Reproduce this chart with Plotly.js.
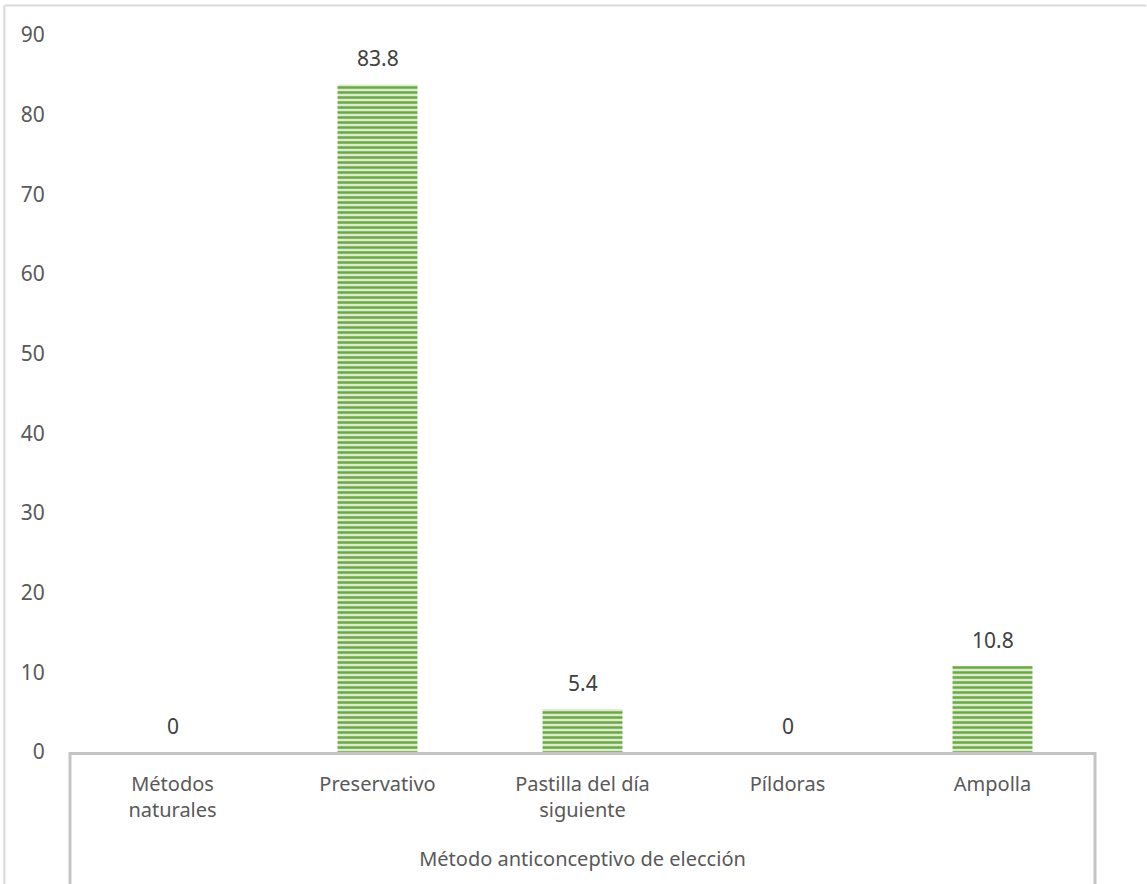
<!DOCTYPE html>
<html>
<head>
<meta charset="utf-8">
<script src="https://cdn.plot.ly/plotly-3.0.1.min.js"></script>
<style>
html,body{margin:0;padding:0;background:#fff;}
#chart{width:1147px;height:884px;}
</style>
</head>
<body>
<div id="chart"></div>
<script>
const categories = ["Métodos<br>naturales", "Preservativo", "Pastilla del día<br>siguiente", "Píldoras", "Ampolla"];
const values = [0, 83.8, 5.4, 0, 10.8];
const valueLabels = ["0", "83.8", "5.4", "0", "10.8"];
const xTitle = "Método anticonceptivo de elección";
const yTicks = [0, 10, 20, 30, 40, 50, 60, 70, 80, 90];

const FONT = "Noto Sans, Open Sans, sans-serif";
const GREY = "#595959";
const LINE = "#c4c4c4";
const FS_NUM = 21;
const FS_TXT = 20;

const trace = {
  type: "bar",
  x: categories,
  y: values,
  width: 0.39,
  marker: {
    color: "#d5e8c9",
    line: {width: 0},
    pattern: {shape: "-", fgcolor: "#6aaa3f", bgcolor: "#dcebd2", size: 5, solidity: 0.5, fillmode: "replace"}
  },
  hoverinfo: "x+y"
};

const labelAnnotations = categories.map((c, i) => ({
  x: c, y: values[i], xref: "x", yref: "y",
  text: valueLabels[i], showarrow: false,
  yanchor: "bottom", yshift: 10,
  font: {family: FONT, size: FS_NUM, color: "#404040"}
}));

const layout = {
  width: 1147, height: 884,
  margin: {l: 70, r: 52, t: 35, b: 132},
  paper_bgcolor: "#fff", plot_bgcolor: "#fff",
  showlegend: false,
  font: {family: FONT, color: GREY, size: FS_TXT},
  xaxis: {
    type: "category",
    showline: true, linecolor: LINE, linewidth: 3,
    ticks: "outside", ticklen: 12, tickcolor: "rgba(0,0,0,0)",
    tickfont: {family: FONT, size: FS_TXT, color: GREY},
    showgrid: false, zeroline: false,
    title: {text: xTitle, font: {family: FONT, size: FS_TXT, color: GREY}, standoff: 30}
  },
  yaxis: {
    range: [0, 90],
    tickvals: yTicks,
    showline: false, showgrid: false, zeroline: false,
    ticks: "outside", ticklen: 20, tickcolor: "rgba(0,0,0,0)",
    tickfont: {family: FONT, size: FS_NUM, color: GREY}
  },
  annotations: labelAnnotations,
  shapes: [
    {type: "line", xref: "paper", yref: "paper", x0: 0, x1: 0, y0: 0, y1: -0.2, line: {color: LINE, width: 3}},
    {type: "line", xref: "paper", yref: "paper", x0: 1, x1: 1, y0: 0, y1: -0.2, line: {color: LINE, width: 3}},
    {type: "line", xref: "paper", yref: "paper", x0: -0.064, x1: 1.05, y0: 1.041, y1: 1.041, line: {color: "#d9d9d9", width: 2}},
    {type: "line", xref: "paper", yref: "paper", x0: -0.064, x1: -0.064, y0: 1.041, y1: -0.2, line: {color: "#d9d9d9", width: 2}}
  ]
};

Plotly.newPlot("chart", [trace], layout, {displayModeBar: false, staticPlot: true});
</script>
</body>
</html>
